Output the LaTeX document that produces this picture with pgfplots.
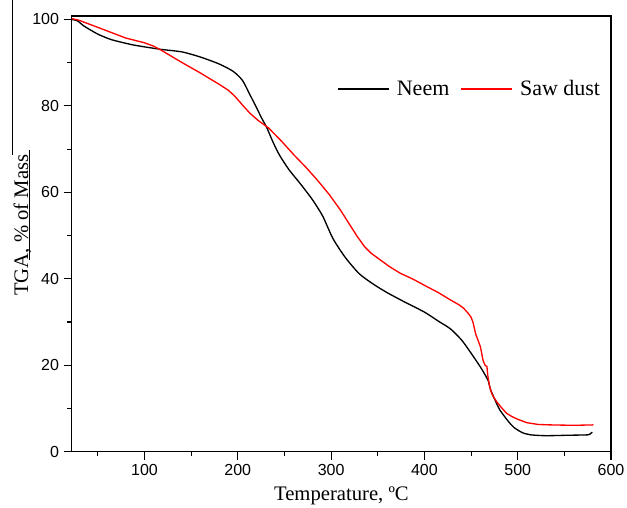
\documentclass[border=0pt]{standalone}
\usepackage{fontspec}
\setmainfont{Liberation Serif}
\newfontfamily\tickfont{Liberation Sans}
\usepackage{pgfplots}
\pgfplotsset{compat=1.18}
\definecolor{sawred}{HTML}{FF0000}

\begin{document}
\begin{tikzpicture}
\begin{axis}[
  scale only axis, width=404.5pt, height=326.8pt,
  xmin=22, xmax=600, ymin=0, ymax=100.8,
  xtick={100,200,...,600}, minor xtick={50,150,...,550},
  ytick={0,20,...,100}, minor ytick={10,30,...,90},
  tick pos=left, tick align=outside,
  major tick length=6pt, minor tick length=3.4pt,
  axis line style={line width=0.9pt},
  tick style={black, line width=0.8pt},
  tick label style={font=\tickfont\fontsize{12}{14}\selectfont},
  /pgf/number format/assume math mode=true,
  xlabel={Temperature, ºC}, ylabel={TGA, \% of Mass},
  label style={font=\fontsize{15.5}{18}\selectfont},
  xlabel style={at={(axis description cs:0.5,-0.113)}, anchor=base},
  ylabel style={at={(axis description cs:-0.081,0.52)}, anchor=base},
  legend columns=2,
  legend style={at={(axis cs:306.6,83.9)}, anchor=west, draw=none, fill=none,
    inner sep=0pt, nodes={inner sep=0pt},
    font=\fontsize{16.5}{19}\selectfont,
    /tikz/every odd column/.append style={column sep=5.5pt},
    /tikz/every even column/.append style={column sep=8.5pt}},
  legend image code/.code={\draw[#1] (0pt,0pt) -- (38pt,0pt);},
  clip=false,
]

% Neem
\addplot[black, line width=1pt, smooth, tension=0.4] coordinates {
  (22,100.0)(28,99.7)(35,98.5)(45,97.2)(52,96.4)(65,95.3)(88,94.1)
  (117,93.1)(140,92.5)(160,91.3)(180,89.7)(195,88.0)(205,85.9)
  (213,82.6)(220,79.6)(226,77.0)(231,75.0)(238,71.5)(245,68.5)
  (255,65.2)(267,62.0)(280,58.3)(291,54.5)(302,49.3)(315,45.0)
  (330,41.2)(345,38.8)(360,36.8)(380,34.5)(400,32.3)(415,30.2)
  (428,28.4)(440,25.8)(450,22.8)(460,19.6)(468,16.6)(471,14.3)
  (476,11.8)(481,9.6)(490,7.0)(496,5.6)(505,4.4)(514,3.9)(530,3.7)
  (553,3.8)(575,3.9)(578,4.2)(580,4.5)
};
% Saw dust
\addplot[sawred, line width=1pt] coordinates {
  (22,100.2)(30,99.8)(52,98.0)(80,95.7)(100,94.6)(110,93.8)(117,93.0)
  (128,91.6)(138,90.3)(160,87.6)(180,85.0)(190,83.6)(197,82.2)
  (205,80.2)(213,78.3)(222,76.6)(233,74.9)(247,71.8)(260,68.7)
  (273,65.8)(285,62.9)(298,59.5)(310,55.9)(320,52.5)(328,49.8)
  (336,47.4)(343,45.9)(350,44.8)(362,42.9)(374,41.3)(388,39.9)
  (400,38.5)(415,36.8)(428,35.1)(437,34.0)(442,33.2)(447,32.0)
  (450,31.1)(452,30.0)(455,27.2)(460,24.3)(463,21.0)(465,20.0)
  (467,19.7)(468,17.5)(470,15.0)(472,13.6)(474,12.7)(478,11.4)
  (483,10.1)(488,8.9)(494,8.1)(500,7.5)(510,6.7)(522,6.3)
  (535,6.2)(560,6.1)(581,6.2)
};
\legend{Neem, Saw dust}

\draw[black, line width=0.6pt] (axis description cs:-0.1107,1.037) -- (axis description cs:-0.1107,0.681);
\draw[black, line width=0.6pt] (axis description cs:-0.079,0.692) -- (axis description cs:-0.079,0.44);
\end{axis}
\pgfresetboundingbox
\path[use as bounding box] (-53.8pt,-42.2pt) rectangle (416.5pt,338.8pt);
\end{tikzpicture}
\end{document}
